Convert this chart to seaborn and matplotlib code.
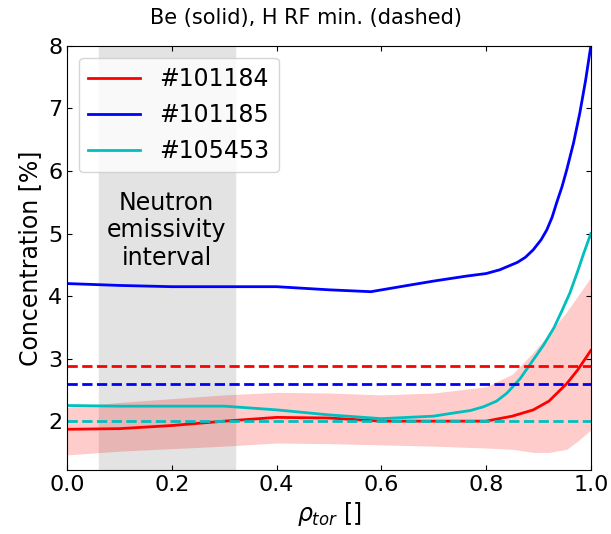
# Be and H concentration profiles vs rho_tor

import numpy as np
import matplotlib.pyplot as plt
import seaborn as sns

rho_red = [0.0, 0.1, 0.2, 0.3, 0.4, 0.5, 0.6, 0.7, 0.8, 0.85, 0.89, 0.92, 0.954, 0.975, 1.0]
be_101184 = [1.87, 1.88, 1.93, 2.0, 2.06, 2.05, 2.0, 2.0, 2.0, 2.08, 2.18, 2.32, 2.6, 2.82, 3.13]
band_lo = [1.46, 1.52, 1.56, 1.6, 1.65, 1.64, 1.62, 1.6, 1.57, 1.55, 1.5, 1.5, 1.55, 1.68, 1.86]
band_hi = [2.22, 2.3, 2.36, 2.42, 2.46, 2.45, 2.42, 2.45, 2.55, 2.75, 3.1, 3.4, 3.75, 4.0, 4.3]

rho_blue = [0.0, 0.1, 0.2, 0.3, 0.4, 0.5, 0.58, 0.65, 0.7, 0.763, 0.8, 0.826, 0.86, 0.875, 0.89, 0.905,
            0.916, 0.926, 0.935, 0.945, 0.954, 0.967, 0.979, 0.99, 1.0]
be_101185 = [4.2, 4.17, 4.15, 4.15, 4.15, 4.1, 4.07, 4.17, 4.24, 4.32, 4.36, 4.42, 4.54, 4.62, 4.74, 4.9,
             5.06, 5.26, 5.5, 5.75, 6.02, 6.45, 6.93, 7.45, 8.0]

rho_cyan = [0.0, 0.1, 0.2, 0.3, 0.4, 0.5, 0.6, 0.7, 0.73, 0.77, 0.795, 0.82, 0.84, 0.865, 0.89, 0.91,
            0.93, 0.945, 0.96, 0.975, 0.985, 1.0]
be_105453 = [2.25, 2.24, 2.24, 2.24, 2.18, 2.1, 2.04, 2.08, 2.12, 2.17, 2.23, 2.32, 2.45, 2.68, 2.98, 3.22,
             3.5, 3.77, 4.05, 4.4, 4.65, 5.0]

h_min = {"#101184": 2.88, "#101185": 2.6, "#105453": 2.0}
colors = {"#101184": "r", "#101185": "b", "#105453": "c"}

fig, ax = plt.subplots(figsize=(6.11, 5.34), dpi=100)
fig.subplots_adjust(left=0.11, right=0.967, top=0.914, bottom=0.12)

ax.axvspan(0.06, 0.32, color="0.89", zorder=0)
ax.text(0.19, 5.05, "Neutron\nemissivity\ninterval", ha="center", va="center", fontsize=17)

ax.fill_between(rho_red, band_lo, band_hi, color="r", alpha=0.2, lw=0)
sns.lineplot(x=rho_red, y=be_101184, color="r", lw=2, label="#101184", ax=ax)
sns.lineplot(x=rho_blue, y=be_101185, color="b", lw=2, label="#101185", ax=ax)
sns.lineplot(x=rho_cyan, y=be_105453, color="c", lw=2, label="#105453", ax=ax)

for shot, val in h_min.items():
    ax.axhline(val, color=colors[shot], ls="--", lw=2)

ax.set_xlim(0, 1)
ax.set_ylim(1.22, 8)
ax.set_xlabel(r"$\rho_{tor}$ []", fontsize=17)
ax.set_ylabel("Concentration [%]", fontsize=17)
fig.suptitle("Be (solid), H RF min. (dashed)", fontsize=15, y=0.966, va="center")
ax.tick_params(direction="in", top=True, right=True, labelsize=16)
ax.legend(loc="upper left", fontsize=17, handlelength=2.2)

fig.savefig("out.png", dpi=100)
